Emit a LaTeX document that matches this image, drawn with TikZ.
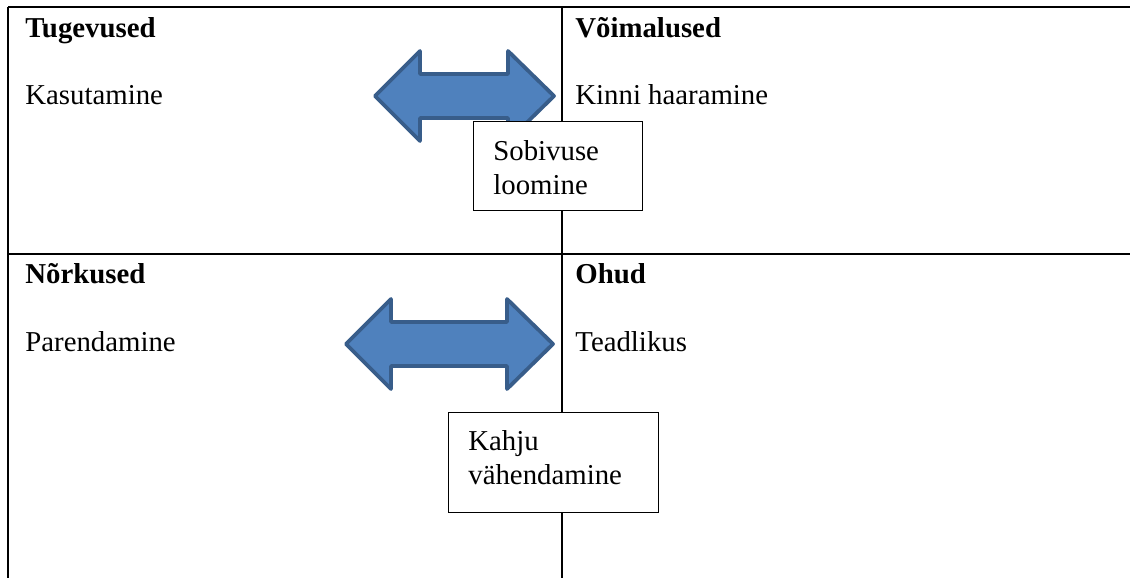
\documentclass[tikz,border=0pt]{standalone}
\usepackage{fontspec}
\setmainfont{Liberation Serif}
\usetikzlibrary{positioning}
\definecolor{arrowfill}{HTML}{4F81BD}
\definecolor{arrowline}{HTML}{385D8A}

\begin{document}
\begin{tikzpicture}[x=0.5pt, y=-0.5pt,
    gridline/.style={line width=1.3pt},
    celltext/.style={anchor=base west, inner sep=0pt, font=\fontsize{14.4}{17}\selectfont},
    cellhead/.style={celltext, font=\fontsize{14.4}{17}\selectfont\bfseries},
    fatarrow/.style={fill=arrowfill, draw=arrowline, line width=1.9pt, line join=round},
    notebox/.style={draw=black, fill=white, line width=0.6pt, anchor=north west, inner sep=0pt},
    notetext/.style={anchor=north west, inner sep=0pt, align=left, font=\fontsize{14.4}{17}\selectfont}]
                            \useasboundingbox (0,0) rectangle (1130,578);
                            % table
                            \draw[gridline] (8,7) -- (1130,7);
                            \draw[gridline] (8,254) -- (1130,254);
                            \draw[gridline] (8,7) -- (8,578);
                            \draw[gridline] (562,7) -- (562,578);
                            % arrows
                            \draw[fatarrow] (375,96) -- (420,51) -- (420,74) -- (508,74) -- (508,51) -- (554,96)
                                -- (508,141) -- (508,118) -- (420,118) -- (420,141) -- cycle;
                            \draw[fatarrow] (346,344) -- (391,299) -- (391,322) -- (507,322) -- (507,299) -- (553,344)
                                -- (507,389) -- (507,366) -- (391,366) -- (391,389) -- cycle;
                            % boxes
                            \node[notebox, minimum width=84.5pt, minimum height=44.5pt] (fitbox) at (473,121) {};
                            \node[notetext] (fittext) at (493,140) {Sobivuse\\loomine};
                            \node[notebox, minimum width=105pt, minimum height=50pt] (harmbox) at (448,412) {};
                            \node[notetext] (harmtext) at (468,430) {Kahju\\vähendamine};
                            % cells
                            \node[cellhead] (strengths) at (25,37) {Tugevused};
                            \node[celltext] (use) at (25,104) {Kasutamine};
                            \node[cellhead] (chances) at (575,37) {Võimalused};
                            \node[celltext] (grab) at (575,104) {Kinni haaramine};
                            \node[cellhead] (weak) at (25,283) {Nõrkused};
                            \node[celltext] (improve) at (25,351) {Parendamine};
                            \node[cellhead] (threats) at (575,283) {Ohud};
                            \node[celltext] (aware) at (575,351) {Teadlikus};
                        \end{tikzpicture}
\end{document}
